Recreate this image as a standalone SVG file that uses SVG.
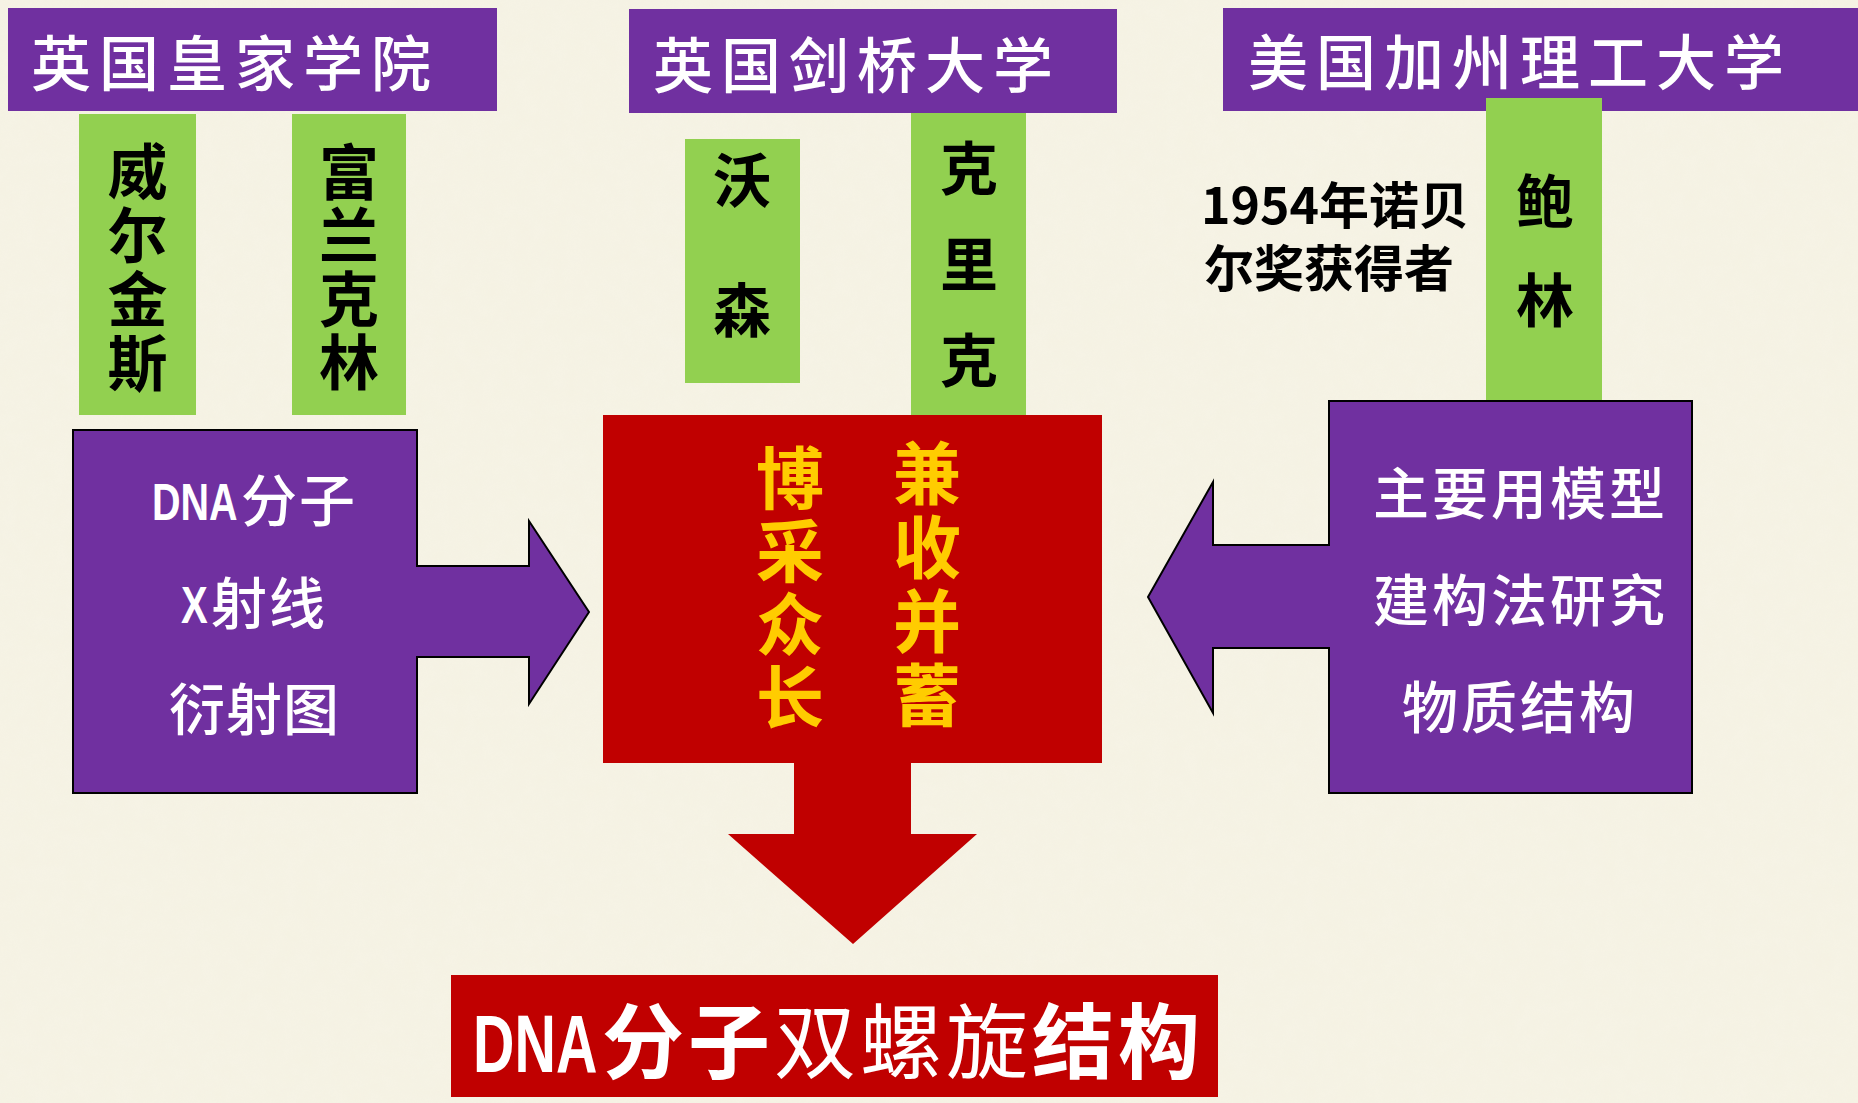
<svg xmlns="http://www.w3.org/2000/svg" width="1858" height="1103" viewBox="0 0 1858 1103">
<style>
.cjk{font-family:"Noto Sans CJK SC","Noto Sans",sans-serif}
.hdr{fill:#7030A0}
.hdrt{fill:#fff;font-size:60px;font-weight:500;letter-spacing:8px}
.grn{fill:#92D050}
.name{fill:#000;font-size:60px;font-weight:700;writing-mode:vertical-rl}
.pur{fill:#7030A0;stroke:#000;stroke-width:2}
.wt{fill:#fff;font-size:56px;font-weight:500}
.red{fill:#C00000}
.yel{fill:#FFCC00;font-size:68px;font-weight:700;writing-mode:vertical-rl}
.lat{font-family:"Liberation Sans",Arial,sans-serif;font-weight:700;fill:#fff}
</style>
<defs>
<filter id="tex" x="0" y="0" width="100%" height="100%">
<feTurbulence type="fractalNoise" baseFrequency="0.06" numOctaves="3" seed="4"/>
<feColorMatrix values="0 0 0 0 0.93  0 0 0 0 0.91  0 0 0 0 0.83  0 0 0 0.5 0"/>
</filter>
</defs>
<rect width="1858" height="1103" fill="#F5F2E3"/>
<rect width="1858" height="1103" filter="url(#tex)" opacity="0.6"/>

<g id="header-royal">
<rect class="hdr" x="8" y="8" width="489" height="103"/>
<text class="cjk hdrt" x="31" y="86">英国皇家学院</text>
</g>
<g id="header-cambridge">
<rect class="hdr" x="629" y="9" width="488" height="104"/>
<text class="cjk hdrt" x="653" y="88">英国剑桥大学</text>
</g>
<g id="header-caltech">
<rect class="hdr" x="1223" y="8" width="635" height="103"/>
<text class="cjk hdrt" x="1248" y="85">美国加州理工大学</text>
</g>

<g id="wilkins">
<rect class="grn" x="79" y="114" width="117" height="301"/>
<text class="cjk name" x="137.5" y="141" letter-spacing="4">威尔金斯</text>
</g>
<g id="franklin">
<rect class="grn" x="292" y="114" width="114" height="301"/>
<text class="cjk name" x="349" y="142" letter-spacing="3.5">富兰克林</text>
</g>
<g id="watson">
<rect class="grn" x="685" y="139" width="115" height="244"/>
<text class="cjk name" x="742" y="151" style="font-size:58px" letter-spacing="72">沃森</text>
</g>
<g id="crick">
<rect class="grn" x="911" y="113" width="115" height="303"/>
<text class="cjk name" x="969" y="139" style="font-size:58px" letter-spacing="38">克里克</text>
</g>
<g id="pauling">
<rect class="grn" x="1486" y="98" width="116" height="303"/>
<text class="cjk name" x="1545" y="172" style="font-size:58px" letter-spacing="41">鲍林</text>
</g>
<g id="nobel-note">
<text class="cjk" font-size="50" font-weight="700" fill="#000"><tspan x="1201" y="224">1954年诺贝</tspan><tspan x="1204" y="287">尔奖获得者</tspan></text>
</g>

<g id="xray-box">
<path class="pur" d="M73,430 H417 V566 H529 V521 L589,612 L529,704 V657 H417 V793 H73 Z"/>
<text class="lat" font-size="52" transform="translate(152,520) scale(0.76,1)">DNA</text>
<text class="cjk wt" x="241" y="521" letter-spacing="2">分子</text>
<text class="lat" font-size="52" transform="translate(181,623) scale(0.77,1)">X</text>
<text class="cjk wt" x="211" y="624" letter-spacing="2">射线</text>
<text class="cjk wt" x="169" y="730" letter-spacing="1">衍射图</text>
</g>

<g id="model-box">
<path class="pur" d="M1692,401 V793 H1329 V648 H1213 V713 L1148,597 L1213,482 V545 H1329 V401 Z"/>
<text class="cjk wt" x="1373" y="514" letter-spacing="3">主要用模型</text>
<text class="cjk wt" x="1373" y="621" letter-spacing="3">建构法研究</text>
<text class="cjk wt" x="1402" y="728" letter-spacing="3">物质结构</text>
</g>

<g id="synthesis">
<path class="red" d="M603,415 H1102 V763 H911 V834 H977 L853,944 L728,834 H794 V763 H603 Z"/>
<text class="cjk yel" x="790" y="444" letter-spacing="5">博采众长</text>
<text class="cjk yel" x="927" y="439" letter-spacing="6">兼收并蓄</text>
</g>

<g id="result">
<rect class="red" x="451" y="975" width="767" height="122"/>
<text class="lat" font-size="82" transform="translate(473,1072) scale(0.7,1)">DNA</text>
<text class="cjk" x="602" y="1072" font-size="82" fill="#fff" letter-spacing="4"><tspan font-weight="700">分子</tspan><tspan font-weight="400">双螺旋</tspan><tspan font-weight="700">结构</tspan></text>
</g>

<g id="connectors"></g>
</svg>
